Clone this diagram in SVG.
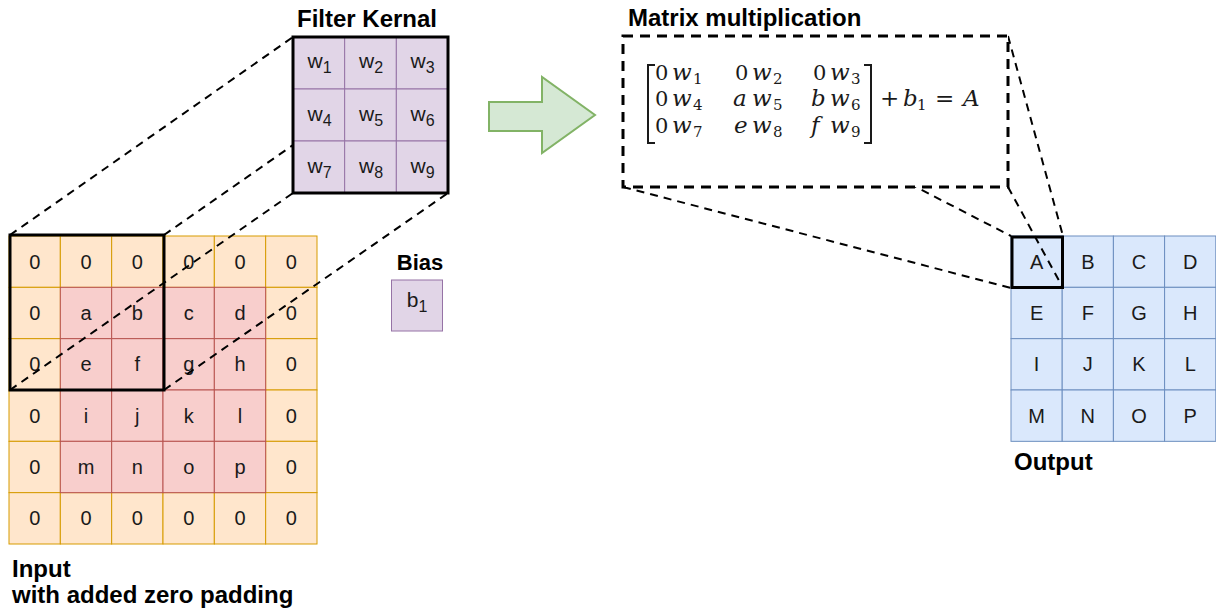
<svg xmlns="http://www.w3.org/2000/svg" width="1216" height="614" viewBox="0 0 1216 614">
  <style>
    .pad { fill: #ffe6cc; stroke: #d79b00; stroke-width: 1; }
    .val { fill: #f8cecc; stroke: #b85450; stroke-width: 1; }
    .ker { fill: #e1d5e7; stroke: #9673a6; stroke-width: 1; }
    .out { fill: #dae8fc; stroke: #6c8ebf; stroke-width: 1; }
    .frame { fill: none; stroke: #000; stroke-width: 3; }
    .cell { font-family: "Liberation Sans", Arial, sans-serif; font-size: 20px; fill: #1a1a1a; text-anchor: middle; }
    .wk { font-size: 21px; }
    .sub { font-size: 16px; }
    .title { font-family: "Liberation Sans", Arial, sans-serif; font-size: 24px; font-weight: bold; fill: #000; }
    .link { fill: none; stroke: #000; stroke-width: 2; stroke-dasharray: 8 6; }
    .math { font-family: "DejaVu Serif", "Liberation Serif", serif; font-size: 21px; fill: #1a1a1a; }
    .mi { font-style: italic; font-size: 23px; }
    .ms { font-size: 15px; font-style: normal; }
  </style>

  <!-- padded input grid -->
  <g id="input">
    <g>
      <rect class="pad" x="9" y="236" width="51.33" height="51.33"/>
      <rect class="pad" x="60.33" y="236" width="51.33" height="51.33"/>
      <rect class="pad" x="111.67" y="236" width="51.33" height="51.33"/>
      <rect class="pad" x="163" y="236" width="51.33" height="51.33"/>
      <rect class="pad" x="214.33" y="236" width="51.33" height="51.33"/>
      <rect class="pad" x="265.67" y="236" width="51.33" height="51.33"/>
      <rect class="pad" x="9" y="287.33" width="51.33" height="51.33"/>
      <rect class="pad" x="265.67" y="287.33" width="51.33" height="51.33"/>
      <rect class="pad" x="9" y="338.67" width="51.33" height="51.33"/>
      <rect class="pad" x="265.67" y="338.67" width="51.33" height="51.33"/>
      <rect class="pad" x="9" y="390" width="51.33" height="51.33"/>
      <rect class="pad" x="265.67" y="390" width="51.33" height="51.33"/>
      <rect class="pad" x="9" y="441.33" width="51.33" height="51.33"/>
      <rect class="pad" x="265.67" y="441.33" width="51.33" height="51.33"/>
      <rect class="pad" x="9" y="492.67" width="51.33" height="51.33"/>
      <rect class="pad" x="60.33" y="492.67" width="51.33" height="51.33"/>
      <rect class="pad" x="111.67" y="492.67" width="51.33" height="51.33"/>
      <rect class="pad" x="163" y="492.67" width="51.33" height="51.33"/>
      <rect class="pad" x="214.33" y="492.67" width="51.33" height="51.33"/>
      <rect class="pad" x="265.67" y="492.67" width="51.33" height="51.33"/>
    </g>
    <g>
      <rect class="val" x="60.33" y="287.33" width="51.33" height="51.33"/>
      <rect class="val" x="111.67" y="287.33" width="51.33" height="51.33"/>
      <rect class="val" x="163" y="287.33" width="51.33" height="51.33"/>
      <rect class="val" x="214.33" y="287.33" width="51.33" height="51.33"/>
      <rect class="val" x="60.33" y="338.67" width="51.33" height="51.33"/>
      <rect class="val" x="111.67" y="338.67" width="51.33" height="51.33"/>
      <rect class="val" x="163" y="338.67" width="51.33" height="51.33"/>
      <rect class="val" x="214.33" y="338.67" width="51.33" height="51.33"/>
      <rect class="val" x="60.33" y="390" width="51.33" height="51.33"/>
      <rect class="val" x="111.67" y="390" width="51.33" height="51.33"/>
      <rect class="val" x="163" y="390" width="51.33" height="51.33"/>
      <rect class="val" x="214.33" y="390" width="51.33" height="51.33"/>
      <rect class="val" x="60.33" y="441.33" width="51.33" height="51.33"/>
      <rect class="val" x="111.67" y="441.33" width="51.33" height="51.33"/>
      <rect class="val" x="163" y="441.33" width="51.33" height="51.33"/>
      <rect class="val" x="214.33" y="441.33" width="51.33" height="51.33"/>
    </g>
    <g class="cell">
      <text x="34.7" y="268.7">0</text><text x="86" y="268.7">0</text><text x="137.3" y="268.7">0</text><text x="188.7" y="268.7">0</text><text x="240" y="268.7">0</text><text x="291.3" y="268.7">0</text>
      <text x="34.7" y="320">0</text><text x="86" y="320">a</text><text x="137.3" y="320">b</text><text x="188.7" y="320">c</text><text x="240" y="320">d</text><text x="291.3" y="320">0</text>
      <text x="34.7" y="371.3">0</text><text x="86" y="371.3">e</text><text x="137.3" y="371.3">f</text><text x="188.7" y="371.3">g</text><text x="240" y="371.3">h</text><text x="291.3" y="371.3">0</text>
      <text x="34.7" y="422.7">0</text><text x="86" y="422.7">i</text><text x="137.3" y="422.7">j</text><text x="188.7" y="422.7">k</text><text x="240" y="422.7">l</text><text x="291.3" y="422.7">0</text>
      <text x="34.7" y="474">0</text><text x="86" y="474">m</text><text x="137.3" y="474">n</text><text x="188.7" y="474">o</text><text x="240" y="474">p</text><text x="291.3" y="474">0</text>
      <text x="34.7" y="525.3">0</text><text x="86" y="525.3">0</text><text x="137.3" y="525.3">0</text><text x="188.7" y="525.3">0</text><text x="240" y="525.3">0</text><text x="291.3" y="525.3">0</text>
    </g>
    <rect id="window" class="frame" x="10" y="235" width="154" height="155"/>
    <text class="title" x="12" y="577">Input</text>
    <text class="title" x="12" y="603">with added zero padding</text>
  </g>

  <!-- output feature map -->
  <g id="output">
    <rect class="out" x="1011" y="236" width="51.2" height="51.33"/>
    <rect class="out" x="1062.2" y="236" width="51.2" height="51.33"/>
    <rect class="out" x="1113.4" y="236" width="51.2" height="51.33"/>
    <rect class="out" x="1164.6" y="236" width="51.2" height="51.33"/>
    <rect class="out" x="1011" y="287.33" width="51.2" height="51.33"/>
    <rect class="out" x="1062.2" y="287.33" width="51.2" height="51.33"/>
    <rect class="out" x="1113.4" y="287.33" width="51.2" height="51.33"/>
    <rect class="out" x="1164.6" y="287.33" width="51.2" height="51.33"/>
    <rect class="out" x="1011" y="338.67" width="51.2" height="51.33"/>
    <rect class="out" x="1062.2" y="338.67" width="51.2" height="51.33"/>
    <rect class="out" x="1113.4" y="338.67" width="51.2" height="51.33"/>
    <rect class="out" x="1164.6" y="338.67" width="51.2" height="51.33"/>
    <rect class="out" x="1011" y="390" width="51.2" height="51.33"/>
    <rect class="out" x="1062.2" y="390" width="51.2" height="51.33"/>
    <rect class="out" x="1113.4" y="390" width="51.2" height="51.33"/>
    <rect class="out" x="1164.6" y="390" width="51.2" height="51.33"/>
    <g class="cell">
      <text x="1036.6" y="268.7">A</text><text x="1087.8" y="268.7">B</text><text x="1139" y="268.7">C</text><text x="1190.2" y="268.7">D</text>
      <text x="1036.6" y="320">E</text><text x="1087.8" y="320">F</text><text x="1139" y="320">G</text><text x="1190.2" y="320">H</text>
      <text x="1036.6" y="371.3">I</text><text x="1087.8" y="371.3">J</text><text x="1139" y="371.3">K</text><text x="1190.2" y="371.3">L</text>
      <text x="1036.6" y="422.7">M</text><text x="1087.8" y="422.7">N</text><text x="1139" y="422.7">O</text><text x="1190.2" y="422.7">P</text>
    </g>
    <rect class="frame" x="1012" y="237" width="50.5" height="50.5"/>
    <text class="title" x="1014" y="470">Output</text>
  </g>

  <!-- projection lines -->
  <g id="connectors">
    <line class="link" x1="10" y1="235" x2="293" y2="37"/>
    <line class="link" x1="164" y1="235" x2="448" y2="37"/>
    <line class="link" x1="10" y1="390" x2="293" y2="193"/>
    <line class="link" x1="164" y1="390" x2="448" y2="193"/>
    <line class="link" x1="623" y1="36" x2="1011" y2="236"/>
    <line class="link" x1="1008" y1="36" x2="1063" y2="236"/>
    <line class="link" x1="623" y1="187" x2="1011" y2="288"/>
    <line class="link" x1="1008" y1="187" x2="1063" y2="288"/>
  </g>

  <!-- 3x3 filter kernel -->
  <g id="kernel">
    <rect class="ker" x="293" y="37" width="51.67" height="52"/>
    <rect class="ker" x="344.67" y="37" width="51.67" height="52"/>
    <rect class="ker" x="396.33" y="37" width="51.67" height="52"/>
    <rect class="ker" x="293" y="89" width="51.67" height="52"/>
    <rect class="ker" x="344.67" y="89" width="51.67" height="52"/>
    <rect class="ker" x="396.33" y="89" width="51.67" height="52"/>
    <rect class="ker" x="293" y="141" width="51.67" height="52"/>
    <rect class="ker" x="344.67" y="141" width="51.67" height="52"/>
    <rect class="ker" x="396.33" y="141" width="51.67" height="52"/>
    <rect class="frame" x="293" y="37" width="155" height="156"/>
    <g class="cell wk">
      <text x="319.5" y="68">w<tspan class="sub" dy="5">1</tspan></text>
      <text x="371" y="68">w<tspan class="sub" dy="5">2</tspan></text>
      <text x="422.5" y="68">w<tspan class="sub" dy="5">3</tspan></text>
      <text x="319.5" y="120.5">w<tspan class="sub" dy="5">4</tspan></text>
      <text x="371" y="120.5">w<tspan class="sub" dy="5">5</tspan></text>
      <text x="422.5" y="120.5">w<tspan class="sub" dy="5">6</tspan></text>
      <text x="319.5" y="172.5">w<tspan class="sub" dy="5">7</tspan></text>
      <text x="371" y="172.5">w<tspan class="sub" dy="5">8</tspan></text>
      <text x="422.5" y="172.5">w<tspan class="sub" dy="5">9</tspan></text>
    </g>
    <text class="title" x="367" y="27" text-anchor="middle">Filter Kernal</text>
  </g>

  <!-- bias -->
  <g id="bias">
    <text class="title" x="420" y="270" text-anchor="middle" style="font-size:22px">Bias</text>
    <rect class="ker" x="391.5" y="280" width="51" height="51"/>
    <text class="cell wk" x="417" y="307">b<tspan class="sub" dy="5">1</tspan></text>
  </g>

  <!-- block arrow -->
  <g id="arrow">
    <polygon points="489,102 542,102 542,77 595,115 542,153 542,131 489,131" fill="#d5e8d4" stroke="#82b366" stroke-width="2" stroke-linejoin="miter"/>
  </g>

  <!-- matrix multiplication box -->
  <g id="matrix">
    <rect x="623" y="36" width="385" height="151" fill="#fff" stroke="#000" stroke-width="3" stroke-dasharray="10 7"/>
    <text class="title" x="628" y="26">Matrix multiplication</text>
    <g fill="none" stroke="#1a1a1a" stroke-width="2">
      <polyline points="655,65 648,65 648,143 655,143"/>
      <polyline points="864,65 871,65 871,143 864,143"/>
    </g>
    <text class="math" y="80">
      <tspan x="655">0</tspan><tspan x="672" class="mi">w</tspan><tspan x="693" dy="4" class="ms">1</tspan>
      <tspan x="735" dy="-4">0</tspan><tspan x="752" class="mi">w</tspan><tspan x="773" dy="4" class="ms">2</tspan>
      <tspan x="813" dy="-4">0</tspan><tspan x="830" class="mi">w</tspan><tspan x="851" dy="4" class="ms">3</tspan>
    </text>
    <text class="math" y="106">
      <tspan x="655">0</tspan><tspan x="672" class="mi">w</tspan><tspan x="693" dy="4" class="ms">4</tspan>
      <tspan x="733" dy="-4" class="mi">a</tspan><tspan x="752" class="mi">w</tspan><tspan x="773" dy="4" class="ms">5</tspan>
      <tspan x="811" dy="-4" class="mi">b</tspan><tspan x="830" class="mi">w</tspan><tspan x="851" dy="4" class="ms">6</tspan>
      <tspan x="880" dy="-4" style="font-size:23px">+</tspan><tspan x="903" class="mi">b</tspan><tspan x="917" dy="4" class="ms">1</tspan>
      <tspan x="935" dy="-4" style="font-size:23px">=</tspan><tspan x="963" class="mi">A</tspan>
    </text>
    <text class="math" y="133">
      <tspan x="655">0</tspan><tspan x="672" class="mi">w</tspan><tspan x="693" dy="4" class="ms">7</tspan>
      <tspan x="734" dy="-4" class="mi">e</tspan><tspan x="752" class="mi">w</tspan><tspan x="773" dy="4" class="ms">8</tspan>
      <tspan x="811" dy="-4" class="mi">f</tspan><tspan x="830" class="mi">w</tspan><tspan x="851" dy="4" class="ms">9</tspan>
    </text>
  </g>
</svg>
